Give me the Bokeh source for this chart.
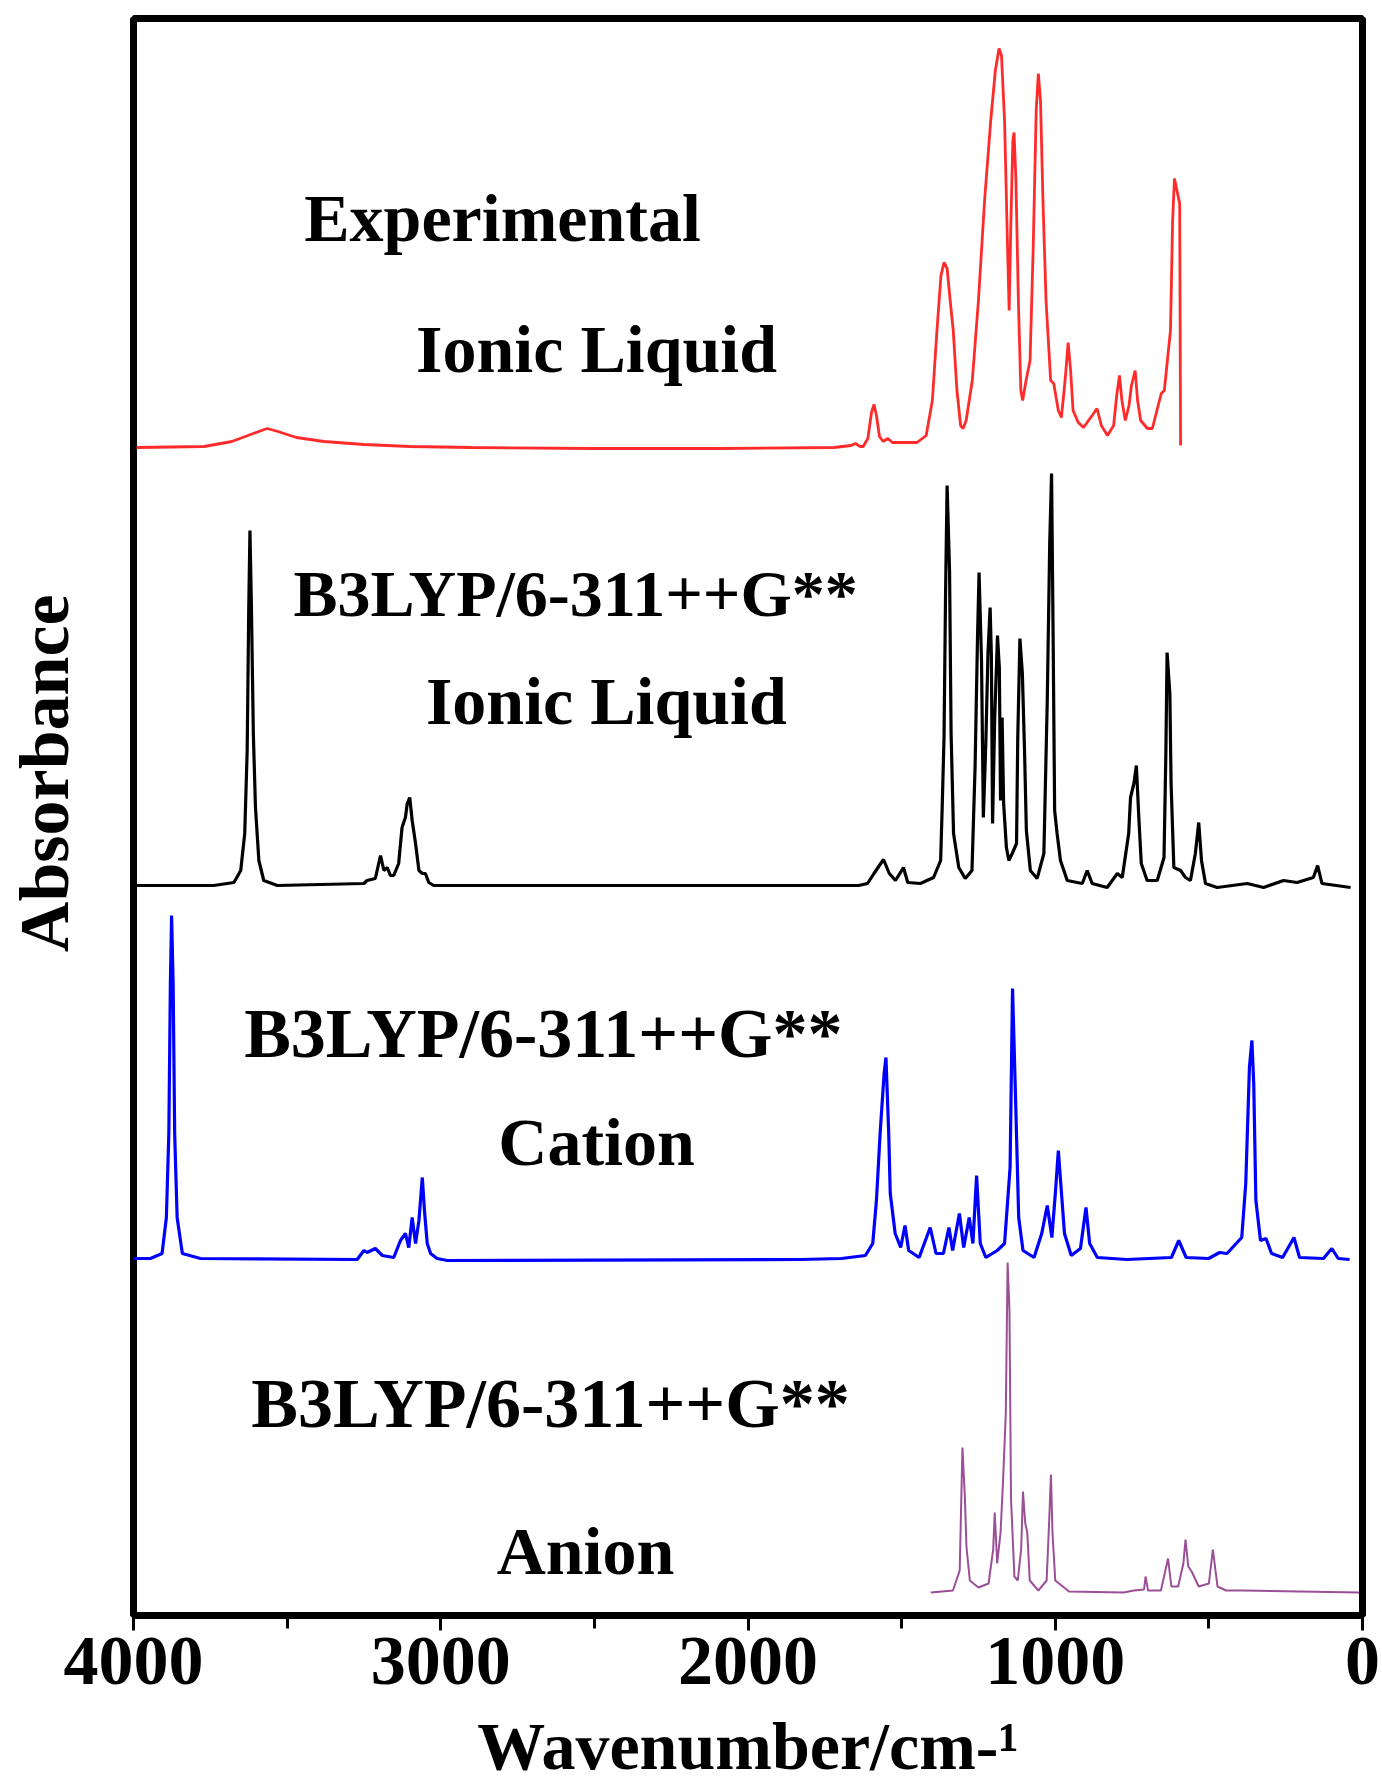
from bokeh.plotting import figure
from bokeh.models import Range1d, FixedTicker, ColumnDataSource
from bokeh.core.properties import value
from bokeh.embed import file_html
from bokeh.resources import INLINE

# ---------------- data (wavenumber cm-1, absorbance a.u. above own baseline) ----------------
exp_wn = [3990, 3770, 3680, 3610, 3565, 3530, 3470, 3380, 3250, 3100, 2900, 2500, 2100, 1720, 1665, 1650,
          1635, 1625, 1610, 1598, 1590, 1582, 1572, 1560, 1545, 1530, 1450, 1420, 1400, 1385, 1372, 1362,
          1352, 1342, 1332, 1320, 1308, 1300, 1290, 1270, 1250, 1230, 1210, 1195, 1183, 1175, 1165, 1155,
          1150, 1145, 1138, 1134, 1128, 1120, 1112, 1106, 1095, 1082, 1072, 1062, 1055, 1048, 1040, 1030,
          1015, 1005, 990, 980, 968, 958, 950, 942, 925, 908, 880, 864, 850, 830, 810, 800, 791, 783, 772,
          760, 752, 740, 732, 722, 700, 684, 665, 655, 645, 635, 625, 618, 612, 604, 595, 592]
exp_abs = [0.00, 0.01, 0.06, 0.14, 0.19, 0.16, 0.10, 0.06, 0.03, 0.01, 0.00, -0.01, -0.01, 0.00, 0.02, 0.04,
           0.01, 0.01, 0.09, 0.35, 0.43, 0.32, 0.11, 0.06, 0.09, 0.05, 0.05, 0.12, 0.47, 1.17, 1.72, 1.85,
           1.79, 1.47, 1.17, 0.57, 0.22, 0.19, 0.27, 0.67, 1.47, 2.47, 3.27, 3.77, 3.99, 3.92, 3.27, 1.97,
           1.37, 2.17, 3.07, 3.15, 2.67, 1.47, 0.57, 0.47, 0.67, 0.87, 1.97, 3.37, 3.74, 3.47, 2.47, 1.47,
           0.67, 0.64, 0.37, 0.30, 0.67, 1.05, 0.77, 0.37, 0.25, 0.20, 0.32, 0.39, 0.22, 0.12, 0.22, 0.52,
           0.72, 0.47, 0.27, 0.42, 0.62, 0.77, 0.47, 0.27, 0.19, 0.19, 0.42, 0.54, 0.57, 0.87, 1.17, 2.27,
           2.69, 2.57, 2.44, 0.02]

il_wn = [4000, 3739, 3673, 3651, 3638, 3630, 3625, 3621, 3616, 3610, 3603, 3592, 3576, 3532, 3250, 3240,
         3213, 3196, 3185, 3174, 3164, 3153, 3137, 3126, 3115, 3109, 3101, 3093, 3082, 3071, 3060, 3050,
         3039, 3023, 1640, 1611, 1590, 1559, 1540, 1520, 1494, 1480, 1439, 1396, 1373, 1368, 1362, 1357,
         1352, 1344, 1339, 1331, 1314, 1293, 1271, 1261, 1253, 1248, 1240, 1234, 1226, 1219, 1212, 1208,
         1204, 1197, 1188, 1182, 1178, 1173, 1168, 1159, 1151, 1140, 1126, 1122, 1115, 1107, 1100, 1094,
         1081, 1059, 1037, 1026, 1018, 1012, 1007, 1002, 994, 983, 961, 912, 896, 880, 831, 798, 782, 761,
         755, 744, 736, 728, 720, 701, 668, 646, 640, 636, 627, 623, 614, 592, 576, 560, 544, 533, 524,
         511, 473, 375, 322, 257, 213, 160, 146, 132, 39]
il_abs = [0.00, 0.00, 0.03, 0.15, 0.52, 1.35, 2.75, 3.55, 2.75, 1.52, 0.78, 0.25, 0.05, 0.00, 0.02, 0.05,
          0.07, 0.30, 0.15, 0.18, 0.10, 0.10, 0.22, 0.58, 0.68, 0.82, 0.88, 0.65, 0.42, 0.15, 0.12, 0.12,
          0.03, 0.00, 0.00, 0.02, 0.12, 0.26, 0.12, 0.05, 0.18, 0.03, 0.02, 0.08, 0.25, 0.78, 1.48, 2.92,
          4.00, 3.15, 1.52, 0.52, 0.18, 0.07, 0.15, 1.18, 2.48, 3.13, 2.25, 0.68, 1.42, 2.32, 2.78, 2.32,
          0.62, 1.68, 2.50, 2.18, 0.85, 1.68, 0.82, 0.38, 0.25, 0.32, 0.42, 1.48, 2.47, 2.12, 1.35, 0.55,
          0.15, 0.07, 0.32, 1.85, 3.42, 4.12, 2.52, 0.75, 0.52, 0.25, 0.05, 0.02, 0.15, 0.02, -0.02, 0.12,
          0.08, 0.52, 0.88, 1.02, 1.20, 0.68, 0.22, 0.05, 0.05, 0.28, 1.32, 2.33, 1.92, 1.02, 0.18, 0.15,
          0.08, 0.05, 0.32, 0.63, 0.25, 0.02, -0.02, 0.02, -0.02, 0.05, 0.03, 0.08, 0.20, 0.02, -0.02]

cat_wn = [4000, 3945, 3907, 3893, 3885, 3880, 3876, 3871, 3866, 3858, 3841, 3782, 3272, 3250, 3240, 3213,
          3190, 3153, 3131, 3115, 3104, 3093, 3082, 3071, 3060, 3053, 3044, 3033, 3012, 2979, 1829, 1696,
          1618, 1594, 1582, 1570, 1557, 1551, 1542, 1537, 1521, 1503, 1489, 1477, 1443, 1407, 1388, 1364,
          1346, 1334, 1312, 1298, 1280, 1268, 1256, 1244, 1226, 1189, 1165, 1147, 1139, 1129, 1119, 1105,
          1069, 1044, 1026, 1011, 999, 990, 982, 970, 948, 918, 900, 888, 863, 767, 622, 598, 574, 501,
          465, 441, 411, 393, 380, 368, 360, 354, 347, 332, 314, 296, 260, 223, 205, 127, 100, 79, 42]
cat_abs = [0.00, 0.00, 0.05, 0.41, 1.25, 2.75, 3.43, 2.75, 1.25, 0.41, 0.05, 0.00, -0.01, 0.08, 0.06, 0.10,
           0.03, 0.01, 0.18, 0.25, 0.11, 0.41, 0.15, 0.38, 0.81, 0.48, 0.15, 0.05, 0.00, -0.02, -0.01, 0.00,
           0.03, 0.15, 0.58, 1.25, 1.85, 2.01, 1.25, 0.65, 0.25, 0.11, 0.33, 0.08, 0.01, 0.31, 0.05, 0.05,
           0.31, 0.08, 0.45, 0.11, 0.41, 0.15, 0.83, 0.15, 0.01, 0.08, 0.15, 0.91, 2.70, 1.58, 0.41, 0.08,
           0.01, 0.25, 0.53, 0.21, 0.68, 1.08, 0.75, 0.25, 0.03, 0.10, 0.51, 0.15, 0.01, -0.01, 0.01, 0.18,
           0.01, 0.00, 0.06, 0.05, 0.15, 0.21, 0.75, 1.91, 2.18, 1.75, 0.58, 0.18, 0.20, 0.05, 0.01, 0.21,
           0.01, 0.00, 0.10, 0.00, -0.01]

an_wn = [1405, 1333, 1311, 1302, 1294, 1289, 1278, 1250, 1217, 1202, 1197, 1189, 1178, 1170, 1161, 1155,
         1149, 1144, 1133, 1122, 1111, 1105, 1098, 1091, 1083, 1055, 1028, 1020, 1014, 1009, 1000, 955, 778,
         744, 711, 706, 698, 656, 633, 622, 600, 583, 576, 567, 556, 533, 500, 487, 472, 444, 389, 11]
an_abs = [0.00, 0.02, 0.22, 1.45, 0.94, 0.46, 0.12, 0.05, 0.09, 0.43, 0.80, 0.29, 0.60, 1.11, 1.79, 3.30,
          2.82, 0.94, 0.16, 0.12, 0.43, 1.01, 0.70, 0.60, 0.12, 0.02, 0.12, 0.70, 1.18, 0.60, 0.12, 0.01, 0.00,
          0.02, 0.03, 0.16, 0.02, 0.02, 0.34, 0.06, 0.06, 0.29, 0.53, 0.26, 0.21, 0.06, 0.09, 0.43, 0.06, 0.02,
          0.02, 0.00]

series_names = ["Experimental", "B3LYP ionic liquid", "B3LYP cation", "B3LYP anion"]
offsets = [11.68, 7.30, 3.57, 0.23]
colors = ["#ff2b2b", "#000000", "#0000ff", "#9b4f96"]
widths = [2.8, 3.2, 3.2, 2.0]

label_text = ["Experimental", "Ionic Liquid", "B3LYP/6-311++G**", "Ionic Liquid",
              "B3LYP/6-311++G**", "Cation", "B3LYP/6-311++G**", "Anion"]
label_wn = [2799, 2493, 2561, 2461, 2666, 2493, 2643, 2529]
label_y = [13.98, 12.67, 10.22, 9.15, 5.82, 4.74, 2.12, 0.65]
label_size = ["68px", "68px", "66px", "68px", "70px", "68px", "70px", "68px"]

x_ticks = [0, 1000, 2000, 3000, 4000]
x_minor = [500, 1500, 2500, 3500]

FONT = "Liberation Serif"

# ---------------- figure ----------------
p = figure(frame_width=1229, frame_height=1597, output_backend="svg", toolbar_location=None,
           x_range=Range1d(4000, 0), y_range=Range1d(0, 15.97),
           min_border_left=133, min_border_right=20, min_border_top=18, min_border_bottom=170,
           background_fill_color="white", border_fill_color="white")
p.grid.visible = False
p.outline_line_color = "black"
p.outline_line_width = 7

spectra = [(exp_wn, exp_abs), (il_wn, il_abs), (cat_wn, cat_abs), (an_wn, an_abs)]
for (wn, ab), off, c, w, nm in zip(spectra, offsets, colors, widths, series_names):
    src = ColumnDataSource(dict(x=wn, y=[a + off for a in ab]))
    p.line("x", "y", source=src, line_color=c, line_width=w, name=nm)

tsrc = ColumnDataSource(dict(x=label_wn, y=label_y, t=label_text, fs=label_size))
p.text("x", "y", text="t", source=tsrc, text_font=value(FONT), text_font_style="bold",
       text_font_size="fs", text_align="center", text_baseline="alphabetic", text_color="black")

xa = p.xaxis[0]
xa.ticker = FixedTicker(ticks=x_ticks, minor_ticks=x_minor)
xa.axis_line_color = None
xa.major_tick_in = 0
xa.major_tick_out = 15
xa.minor_tick_in = 0
xa.minor_tick_out = 13
xa.major_tick_line_width = 3
xa.minor_tick_line_width = 3
xa.major_label_standoff = 7
xa.major_label_text_font = FONT
xa.major_label_text_font_style = "bold"
xa.major_label_text_font_size = "70px"
xa.major_label_text_color = "black"
xa.axis_label = "Wavenumber/cm-¹"
xa.axis_label_text_font = FONT
xa.axis_label_text_font_style = "bold"
xa.axis_label_text_font_size = "68px"
xa.axis_label_text_color = "black"
xa.axis_label_standoff = 21

ya = p.yaxis[0]
ya.ticker = FixedTicker(ticks=[])
ya.axis_line_color = None
ya.major_tick_line_color = None
ya.minor_tick_line_color = None
ya.major_label_text_alpha = 0
# leading no-break spaces lift the visible word above the frame centre, as in the original
ya.axis_label = "\u00a0" * 5 + "Absorbance"
ya.axis_label_text_font = FONT
ya.axis_label_text_font_style = "bold"
ya.axis_label_text_font_size = "70px"
ya.axis_label_text_color = "black"
ya.axis_label_standoff = 51

open("out.html", "w").write(file_html(p, INLINE))
